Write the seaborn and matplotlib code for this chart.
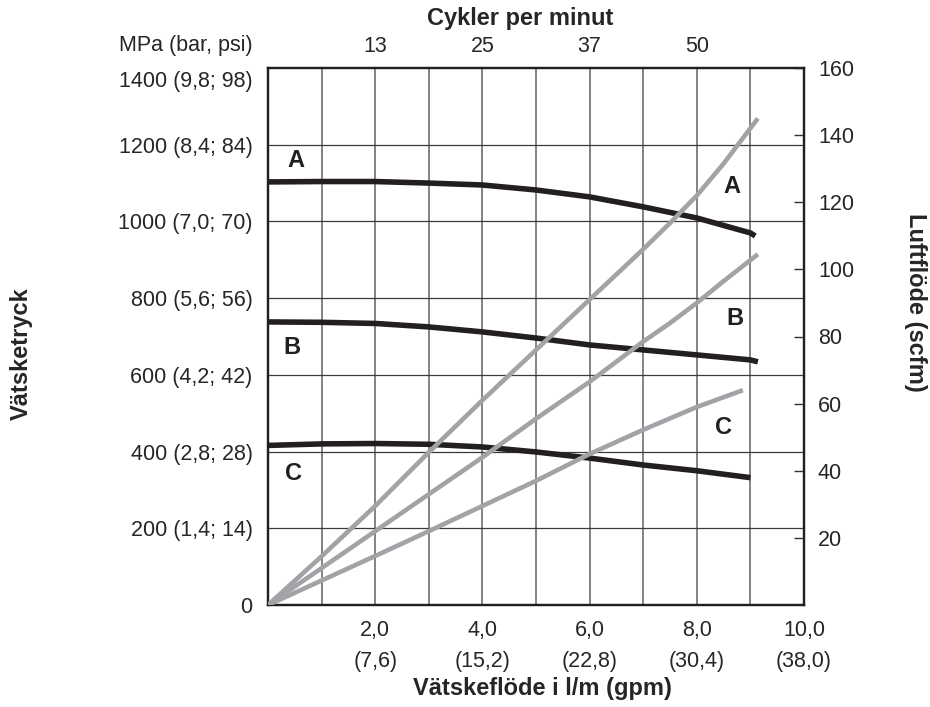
import matplotlib
matplotlib.use("Agg")
import matplotlib.pyplot as plt
import seaborn as sns
import pandas as pd

# Flow axis (gpm) and the two readouts per curve
flow_gpm = [0, 1, 2, 3, 4, 5, 6, 7, 8, 9]

# Fluid pressure on the left axis
pressure_a = [1103, 1104, 1104, 1100, 1095, 1082, 1064, 1038, 1009, 970]
pressure_b = [738, 737, 734, 725, 712, 696, 678, 665, 652, 639]
pressure_c = [416, 420, 421, 419, 412, 399, 383, 365, 350, 332]
end_gpm_a, end_pressure_a = 9.09, 962
end_gpm_b, end_pressure_b = 9.14, 634

# Air flow (scfm) on the right axis
air_gpm_a = [0, 1, 2, 3, 4, 5, 6, 7, 7.5, 8, 8.5, 9.14]
air_a = [0, 14.5, 29.5, 45.5, 61, 76, 91, 106, 113.8, 122, 131.5, 145]
air_gpm_b = [0, 1, 2, 3, 4, 5, 6, 7, 7.5, 8, 8.5, 9.14]
air_b = [0, 11, 22, 33, 44, 55.5, 66.5, 78.5, 84, 90, 96.5, 104.5]
air_gpm_c = [0, 1, 2, 3, 4, 5, 6, 7, 8, 8.86]
air_c = [0, 7.3, 14.6, 22, 29.5, 37, 45, 52.2, 59, 64]

# Tick labels
left_ticks = [0, 200, 400, 600, 800, 1000, 1200]
left_labels = ["0", "200 (1,4; 14)", "400 (2,8; 28)", "600 (4,2; 42)",
               "800 (5,6; 56)", "1000 (7,0; 70)", "1200 (8,4; 84)"]
top_label_1400 = "1400 (9,8; 98)"
bottom_ticks = [2, 4, 6, 8, 10]
bottom_labels = ["2,0\n(7,6)", "4,0\n(15,2)", "6,0\n(22,8)", "8,0\n(30,4)", "10,0\n(38,0)"]
cycle_ticks = [2, 4, 6, 8]
cycle_labels = ["13", "25", "37", "50"]
right_ticks = [20, 40, 60, 80, 100, 120, 140, 160]

sns.set_style("white")
plt.rcParams['font.family'] = ['Liberation Sans', 'DejaVu Sans']

BLACK = "#231f20"
GRAY = "#a2a3a6"
FS = 15.5
TFS = 17

fig = plt.figure(figsize=(9.3, 7.07), dpi=100)
ax = fig.add_axes([268 / 930, 102 / 707, 536 / 930, 537 / 707])
ax2 = ax.twinx()

# pressure curves
for xs, ys, ex, ey in [(flow_gpm, pressure_a, end_gpm_a, end_pressure_a),
                       (flow_gpm, pressure_b, end_gpm_b, end_pressure_b),
                       (flow_gpm, pressure_c, None, None)]:
    xx = list(xs) + ([ex] if ex is not None else [])
    yy = list(ys) + ([ey] if ey is not None else [])
    df = pd.DataFrame({"x": xx, "y": yy})
    sns.lineplot(data=df, x="x", y="y", ax=ax, color=BLACK, lw=4.0,
                 solid_capstyle="butt", sort=False, zorder=3)

# air flow curves
for xs, ys in [(air_gpm_a, air_a), (air_gpm_b, air_b), (air_gpm_c, air_c)]:
    df = pd.DataFrame({"x": xs, "y": ys})
    sns.lineplot(data=df, x="x", y="y", ax=ax2, color=GRAY, lw=3.3,
                 solid_capstyle="butt", sort=False, zorder=3)

ax.set_xlim(0, 10)
ax.set_ylim(0, 1400)
ax2.set_ylim(0, 160)

# grid
for gx in range(1, 10):
    ax.axvline(gx, color="#6e6e6e", lw=1.2, zorder=1)
for gy in range(200, 1400, 200):
    ax.axhline(gy, color="#3a3a3a", lw=0.9, zorder=1)

ax.set_xticks(bottom_ticks)
ax.set_xticklabels(bottom_labels, fontsize=FS, linespacing=1.6)
ax.set_yticks(left_ticks)
ax.set_yticklabels(left_labels, fontsize=FS)
ax.tick_params(axis="both", length=0)
ax.tick_params(axis="x", pad=11)
ax.tick_params(axis="y", pad=11)
ax.set_xlabel("")
ax.set_ylabel("")

ax2.set_yticks(right_ticks)
ax2.set_yticklabels([str(t) for t in right_ticks], fontsize=FS)
ax2.tick_params(axis="y", direction="in", length=7, width=1.0, pad=10, color="#333333")
ax2.set_ylabel("")

top = ax.secondary_xaxis("top")
top.set_xticks(cycle_ticks)
top.set_xticklabels(cycle_labels, fontsize=FS)
top.tick_params(length=0, pad=8)
top.spines["top"].set_visible(False)

for a in (ax, ax2):
    for s in a.spines.values():
        s.set_color(BLACK)
        s.set_linewidth(1.6)

# curve letters
lab = dict(fontsize=17, fontweight="bold", color=BLACK, ha="center", va="center")
ax.text(0.52, 1160, "A", **lab)
ax.text(0.45, 672, "B", **lab)
ax.text(0.47, 344, "C", **lab)
ax.text(8.66, 1092, "A", **lab)
ax.text(8.71, 748, "B", **lab)
ax.text(8.49, 464, "C", **lab)

# axis titles and the unit header
fig.text(253 / 930, 1 - 82 / 707, top_label_1400, fontsize=FS, ha="right", va="center")
fig.text(253 / 930, 1 - 46 / 707, "MPa (bar, psi)", fontsize=FS, ha="right", va="center")
fig.text(520 / 930, 1 - 18 / 707, "Cykler per minut", fontsize=TFS, fontweight="bold",
         ha="center", va="center")
fig.text(542 / 930, 1 - 688 / 707, "Vätskeflöde i l/m (gpm)", fontsize=TFS, fontweight="bold",
         ha="center", va="center")
fig.text(21 / 930, 1 - 354 / 707, "Vätsketryck", fontsize=TFS, fontweight="bold",
         ha="center", va="center", rotation=90)
fig.text(915 / 930, 1 - 302 / 707, "Luftflöde (scfm)", fontsize=TFS, fontweight="bold",
         ha="center", va="center", rotation=-90)

fig.savefig("out.png", dpi=100)
